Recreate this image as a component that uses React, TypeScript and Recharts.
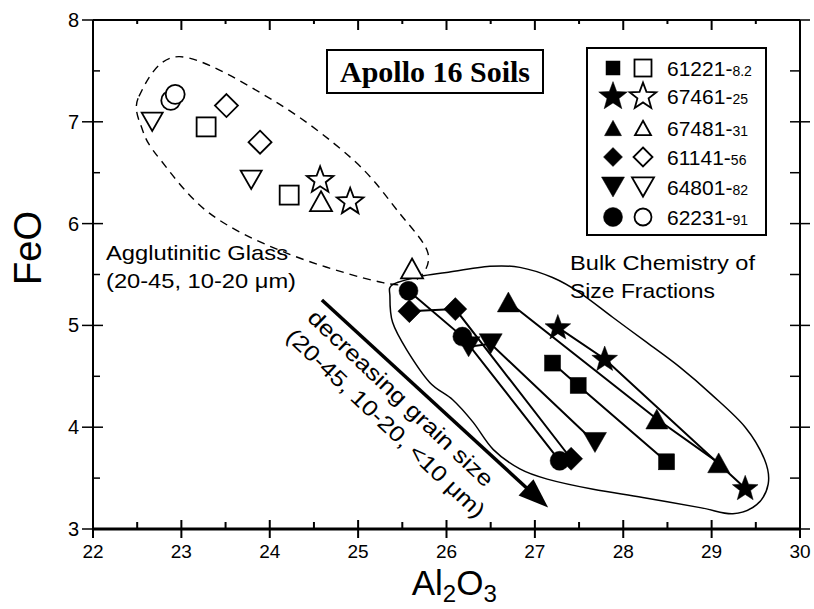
import React from 'react';
import { ScatterChart, Scatter, XAxis, YAxis } from 'recharts';

// axis ticks (major = integers, minor = halves)
const xTicks = [22, 22.5, 23, 23.5, 24, 24.5, 25, 25.5, 26, 26.5, 27, 27.5, 28, 28.5, 29, 29.5, 30];
const yTicks = [3, 3.5, 4, 4.5, 5, 5.5, 6, 6.5, 7, 7.5, 8];

// bulk chemistry of size fractions (Al2O3, FeO), filled symbols joined
const bulk61221 = [{ x: 27.2, y: 4.63 }, { x: 27.49, y: 4.41 }, { x: 28.49, y: 3.66 }];
const bulk67461 = [{ x: 27.26, y: 4.98 }, { x: 27.79, y: 4.67 }, { x: 29.38, y: 3.4 }];
const bulk67481 = [{ x: 26.7, y: 5.23 }, { x: 28.38, y: 4.08 }, { x: 29.08, y: 3.65 }];
const bulk61141 = [{ x: 25.58, y: 5.14 }, { x: 26.1, y: 5.16 }, { x: 27.41, y: 3.69 }];
const bulk64801 = [{ x: 26.25, y: 4.79 }, { x: 26.5, y: 4.82 }, { x: 27.68, y: 3.85 }];
const bulk62231 = [{ x: 25.57, y: 5.34 }, { x: 26.18, y: 4.89 }, { x: 27.28, y: 3.67 }];

// agglutinitic glass, open symbols
const glass61221 = [{ x: 23.28, y: 6.95 }, { x: 24.22, y: 6.28 }];
const glass67461 = [{ x: 24.57, y: 6.43 }, { x: 24.91, y: 6.22 }];
const glass67481 = [{ x: 24.58, y: 6.22 }, { x: 25.61, y: 5.56 }];
const glass61141 = [{ x: 23.51, y: 7.16 }, { x: 23.89, y: 6.8 }];
const glass64801 = [{ x: 22.67, y: 7.0 }, { x: 23.79, y: 6.43 }];
const glass62231 = [{ x: 22.88, y: 7.21 }, { x: 22.93, y: 7.27 }];

// hand-drawn outlines, in data units
const glassOutline = [
  { x: 22.52, y: 7.25 }, { x: 22.98, y: 7.64 }, { x: 24.04, y: 7.21 }, { x: 24.94, y: 6.63 },
  { x: 25.47, y: 6.1 }, { x: 25.79, y: 5.71 }, { x: 25.66, y: 5.45 }, { x: 25.28, y: 5.42 },
  { x: 24.19, y: 5.71 }, { x: 23.32, y: 6.1 }, { x: 22.76, y: 6.63 }, { x: 22.56, y: 6.92 },
];
const bulkOutline = [
  { x: 25.39, y: 5.4 }, { x: 25.7, y: 5.48 }, { x: 26.0, y: 5.52 }, { x: 26.49, y: 5.58 },
  { x: 26.83, y: 5.57 }, { x: 27.2, y: 5.47 }, { x: 27.51, y: 5.32 }, { x: 27.88, y: 5.08 },
  { x: 28.27, y: 4.83 }, { x: 28.64, y: 4.59 }, { x: 29.0, y: 4.32 }, { x: 29.38, y: 4.0 },
  { x: 29.6, y: 3.68 }, { x: 29.64, y: 3.44 }, { x: 29.51, y: 3.24 }, { x: 29.24, y: 3.15 },
  { x: 28.87, y: 3.21 }, { x: 28.22, y: 3.31 }, { x: 27.66, y: 3.39 }, { x: 27.14, y: 3.49 },
  { x: 26.83, y: 3.59 }, { x: 26.53, y: 3.78 }, { x: 26.3, y: 4.05 }, { x: 26.07, y: 4.27 },
  { x: 25.81, y: 4.44 }, { x: 25.55, y: 4.76 }, { x: 25.39, y: 5.03 }, { x: 25.36, y: 5.28 },
];
const grainArrow = [{ x: 24.59, y: 5.25 }, { x: 27.15, y: 3.21 }];

const legendRows = [
  { kind: 'square', id: '61221-', sub: '8.2', y: 68 },
  { kind: 'star', id: '67461-', sub: '25', y: 96 },
  { kind: 'triangle', id: '67481-', sub: '31', y: 128 },
  { kind: 'diamond', id: '61141-', sub: '56', y: 157 },
  { kind: 'invtri', id: '64801-', sub: '82', y: 187 },
  { kind: 'circle', id: '62231-', sub: '91', y: 217 },
];

const SANS = '"Liberation Sans", Arial, Helvetica, sans-serif';
const SERIF = '"Liberation Serif", "Times New Roman", serif';

const filledSize: Record<string, number> = { square: 16, star: 27, triangle: 22, diamond: 23, invtri: 23, circle: 19 };
const openSize: Record<string, number> = { square: 19, star: 28, triangle: 22, diamond: 23, invtri: 21, circle: 19 };
const legendFilled: Record<string, number> = { square: 14, star: 30, triangle: 17, diamond: 19, invtri: 23, circle: 19 };
const legendOpen: Record<string, number> = { square: 17, star: 28, triangle: 16, diamond: 19, invtri: 22, circle: 17 };

function Marker({ cx, cy, kind, filled, size }: any) {
  const fill = filled ? '#000' : '#fff';
  const sw = filled ? 0.5 : 1.8;
  const h = size / 2;
  const common = { fill, stroke: '#000', strokeWidth: sw, strokeLinejoin: 'miter' as const };
  if (kind === 'square') return <rect x={cx - h} y={cy - h} width={size} height={size} {...common} />;
  if (kind === 'circle') return <circle cx={cx} cy={cy} r={h} {...common} />;
  if (kind === 'diamond')
    return <polygon points={`${cx},${cy - h} ${cx + h},${cy} ${cx},${cy + h} ${cx - h},${cy}`} {...common} />;
  if (kind === 'triangle') {
    const th = size * 0.9;
    return <polygon points={`${cx},${cy - th / 2} ${cx + h},${cy + th / 2} ${cx - h},${cy + th / 2}`} {...common} />;
  }
  if (kind === 'invtri') {
    const th = size * 0.87;
    return <polygon points={`${cx - h},${cy - th / 2} ${cx + h},${cy - th / 2} ${cx},${cy + th / 2}`} {...common} />;
  }
  // star
  const pts: string[] = [];
  for (let i = 0; i < 10; i++) {
    const r = i % 2 === 0 ? h : h * 0.42;
    const a = -Math.PI / 2 + (i * Math.PI) / 5;
    pts.push(`${cx + r * Math.cos(a)},${cy + 0.04 * h + r * Math.sin(a)}`);
  }
  return <polygon points={pts.join(' ')} {...common} />;
}

function closedSmooth(pts: { x: number; y: number }[]) {
  const n = pts.length;
  let d = `M${pts[0].x},${pts[0].y}`;
  for (let i = 0; i < n; i++) {
    const p0 = pts[(i - 1 + n) % n];
    const p1 = pts[i];
    const p2 = pts[(i + 1) % n];
    const p3 = pts[(i + 2) % n];
    const c1x = p1.x + (p2.x - p0.x) / 6;
    const c1y = p1.y + (p2.y - p0.y) / 6;
    const c2x = p2.x - (p3.x - p1.x) / 6;
    const c2y = p2.y - (p3.y - p1.y) / 6;
    d += ` C${c1x},${c1y} ${c2x},${c2y} ${p2.x},${p2.y}`;
  }
  return d + 'Z';
}

const dashedOutline = (p: any) => (
  <path d={closedSmooth(p.points)} fill="none" stroke="#000" strokeWidth={1.4} strokeDasharray="8 6" />
);
const solidOutline = (p: any) => (
  <path d={closedSmooth(p.points)} fill="none" stroke="#000" strokeWidth={1.5} />
);
const arrowLine = (p: any) => {
  const [a, b] = p.points;
  const dx = b.x - a.x;
  const dy = b.y - a.y;
  const len = Math.sqrt(dx * dx + dy * dy);
  const ux = dx / len;
  const uy = dy / len;
  const hl = 30;
  const hw = 11;
  const bx = b.x - ux * hl;
  const by = b.y - uy * hl;
  return (
    <g>
      <line x1={a.x} y1={a.y} x2={bx + ux * 2} y2={by + uy * 2} stroke="#000" strokeWidth={3.5} />
      <polygon points={`${b.x},${b.y} ${bx - uy * hw},${by + ux * hw} ${bx + uy * hw},${by - ux * hw}`} fill="#000" />
    </g>
  );
};

const noDot = () => <g />;
const shapeOf = (kind: string, filled: boolean) => (p: any) => (
  <Marker cx={p.cx} cy={p.cy} kind={kind} filled={filled} size={filled ? filledSize[kind] : openSize[kind]} />
);

const BottomTick = (p: any) => {
  const v = p.payload.value;
  const major = Number.isInteger(v);
  return (
    <g>
      <line x1={p.x} x2={p.x} y1={p.y - (major ? 9 : 7)} y2={p.y + (major ? 9 : 0)} stroke="#000" strokeWidth={2} />
      {major && (
        <text x={p.x} y={p.y + 29} textAnchor="middle" fontSize={19} fontFamily={SANS} fill="#000">
          {v}
        </text>
      )}
    </g>
  );
};
const TopTick = (p: any) => {
  const major = Number.isInteger(p.payload.value);
  return <line x1={p.x} x2={p.x} y1={p.y} y2={p.y + (major ? 10 : 4)} stroke="#000" strokeWidth={2} />;
};
const LeftTick = (p: any) => {
  const v = p.payload.value;
  const major = Number.isInteger(v);
  return (
    <g>
      <line x1={p.x - (major ? 11 : 0)} x2={p.x + (major ? 10 : 7)} y1={p.y} y2={p.y} stroke="#000" strokeWidth={1.5} />
      {major && (
        <text x={p.x - 14} y={p.y + 7} textAnchor="end" fontSize={20} fontFamily={SANS} fill="#000">
          {v}
        </text>
      )}
    </g>
  );
};
const RightTick = (p: any) => {
  const major = Number.isInteger(p.payload.value);
  return <line x1={p.x - 10} x2={p.x + (major ? 10 : 0)} y1={p.y} y2={p.y} stroke="#000" strokeWidth={1.5} />;
};

const bulkSeries = [
  { data: bulk61221, kind: 'square' },
  { data: bulk67461, kind: 'star' },
  { data: bulk67481, kind: 'triangle' },
  { data: bulk61141, kind: 'diamond' },
  { data: bulk64801, kind: 'invtri' },
  { data: bulk62231, kind: 'circle' },
];
const glassSeries = [
  { data: glass61221, kind: 'square' },
  { data: glass67461, kind: 'star' },
  { data: glass67481, kind: 'triangle' },
  { data: glass61141, kind: 'diamond' },
  { data: glass64801, kind: 'invtri' },
  { data: glass62231, kind: 'circle' },
];

export default function App() {
  return (
    <div style={{ position: 'absolute', left: 0, top: 0, width: 814, height: 609, background: '#fff' }}>
      <ScatterChart width={814} height={609} margin={{ top: 19, right: 13, bottom: 50, left: 92 }}>
        <XAxis
          xAxisId="b"
          type="number"
          dataKey="x"
          domain={[22, 30]}
          ticks={xTicks}
          interval={0}
          height={30}
          tickSize={0}
          tickMargin={0}
          tickLine={false}
          tick={BottomTick}
          axisLine={{ stroke: '#000', strokeWidth: 3 }}
          allowDataOverflow
        />
        <XAxis
          xAxisId="t"
          orientation="top"
          type="number"
          dataKey="x"
          domain={[22, 30]}
          ticks={xTicks}
          interval={0}
          height={1}
          tickSize={0}
          tickMargin={0}
          tickLine={false}
          tick={TopTick}
          axisLine={{ stroke: '#000', strokeWidth: 2 }}
          allowDataOverflow
        />
        <YAxis
          yAxisId="l"
          type="number"
          dataKey="y"
          domain={[3, 8]}
          ticks={yTicks}
          interval={0}
          width={1}
          tickSize={0}
          tickMargin={0}
          tickLine={false}
          tick={LeftTick}
          axisLine={{ stroke: '#000', strokeWidth: 2 }}
          allowDataOverflow
        />
        <YAxis
          yAxisId="r"
          orientation="right"
          type="number"
          dataKey="y"
          domain={[3, 8]}
          ticks={yTicks}
          interval={0}
          width={1}
          tickSize={0}
          tickMargin={0}
          tickLine={false}
          tick={RightTick}
          axisLine={{ stroke: '#000', strokeWidth: 2 }}
          allowDataOverflow
        />
        <Scatter xAxisId="t" yAxisId="r" data={[{ x: 22, y: 3 }]} shape={noDot} isAnimationActive={false} />
        <Scatter
          xAxisId="b"
          yAxisId="l"
          data={glassOutline}
          shape={noDot}
          line={dashedOutline}
          lineType="joint"
          isAnimationActive={false}
        />
        <Scatter
          xAxisId="b"
          yAxisId="l"
          data={bulkOutline}
          shape={noDot}
          line={solidOutline}
          lineType="joint"
          isAnimationActive={false}
        />
        <Scatter
          xAxisId="b"
          yAxisId="l"
          data={grainArrow}
          shape={noDot}
          line={arrowLine}
          lineType="joint"
          isAnimationActive={false}
        />
        {bulkSeries.map((s) => (
          <Scatter
            key={'b' + s.kind}
            xAxisId="b"
            yAxisId="l"
            data={s.data}
            fill="#000"
            line={{ stroke: '#000', strokeWidth: 2 }}
            lineType="joint"
            shape={shapeOf(s.kind, true)}
            isAnimationActive={false}
          />
        ))}
        {glassSeries.map((s) => (
          <Scatter
            key={'g' + s.kind}
            xAxisId="b"
            yAxisId="l"
            data={s.data}
            fill="#fff"
            shape={shapeOf(s.kind, false)}
            isAnimationActive={false}
          />
        ))}
      </ScatterChart>

      <svg
        width={814}
        height={609}
        style={{ position: 'absolute', left: 0, top: 0, pointerEvents: 'none' }}
      >
        {/* title box */}
        <rect x={327} y={50} width={216} height={43} fill="#fff" stroke="#000" strokeWidth={2} />
        <text x={435} y={82} textAnchor="middle" fontSize={30} fontWeight="bold" fontFamily={SERIF}>
          Apollo 16 Soils
        </text>

        {/* legend */}
        <rect x={587} y={48} width={179} height={187} fill="#fff" stroke="#000" strokeWidth={2} />
        {legendRows.map((r) => (
          <g key={r.id}>
            <Marker cx={613} cy={r.y} kind={r.kind} filled size={legendFilled[r.kind]} />
            <Marker cx={643} cy={r.y} kind={r.kind} filled={false} size={legendOpen[r.kind]} />
            <text x={667} y={r.y + 7.5} fontSize={21} fontFamily={SANS}>
              {r.id}
              <tspan fontSize={14}>{r.sub}</tspan>
            </text>
          </g>
        ))}

        {/* annotations */}
        <text x={106} y={260} fontSize={21} fontFamily={SANS} textLength={182} lengthAdjust="spacingAndGlyphs">
          Agglutinitic Glass
        </text>
        <text x={106} y={288} fontSize={21} fontFamily={SANS} textLength={190} lengthAdjust="spacingAndGlyphs">
          (20-45, 10-20 μm)
        </text>
        <text x={570} y={270} fontSize={21} fontFamily={SANS} textLength={185} lengthAdjust="spacingAndGlyphs">
          Bulk Chemistry of
        </text>
        <text x={570} y={298} fontSize={21} fontFamily={SANS} textLength={145} lengthAdjust="spacingAndGlyphs">
          Size Fractions
        </text>
        <text
          x={400.8}
          y={398.3}
          fontSize={22}
          fontFamily={SANS}
          textAnchor="middle"
          dominantBaseline="central"
          textLength={246}
          lengthAdjust="spacingAndGlyphs"
          transform="rotate(43.4 400.8 398.3)"
        >
          decreasing grain size
        </text>
        <text
          x={385.8}
          y={423.3}
          fontSize={22}
          fontFamily={SANS}
          textAnchor="middle"
          dominantBaseline="central"
          textLength={264}
          lengthAdjust="spacingAndGlyphs"
          transform="rotate(43.4 385.8 423.3)"
        >
          (20-45, 10-20, &lt;10 μm)
        </text>

        {/* axis titles */}
        <text
          x={27.5}
          y={248}
          fontSize={38}
          fontFamily={SANS}
          textAnchor="middle"
          dominantBaseline="central"
          transform="rotate(-90 27.5 248)"
        >
          FeO
        </text>
        <text x={411.7} y={595} fontSize={35} fontFamily={SANS}>
          Al
          <tspan fontSize={24} dy={7}>2</tspan>
          <tspan dy={-7}>O</tspan>
          <tspan fontSize={24} dy={7}>3</tspan>
        </text>
      </svg>
    </div>
  );
}
